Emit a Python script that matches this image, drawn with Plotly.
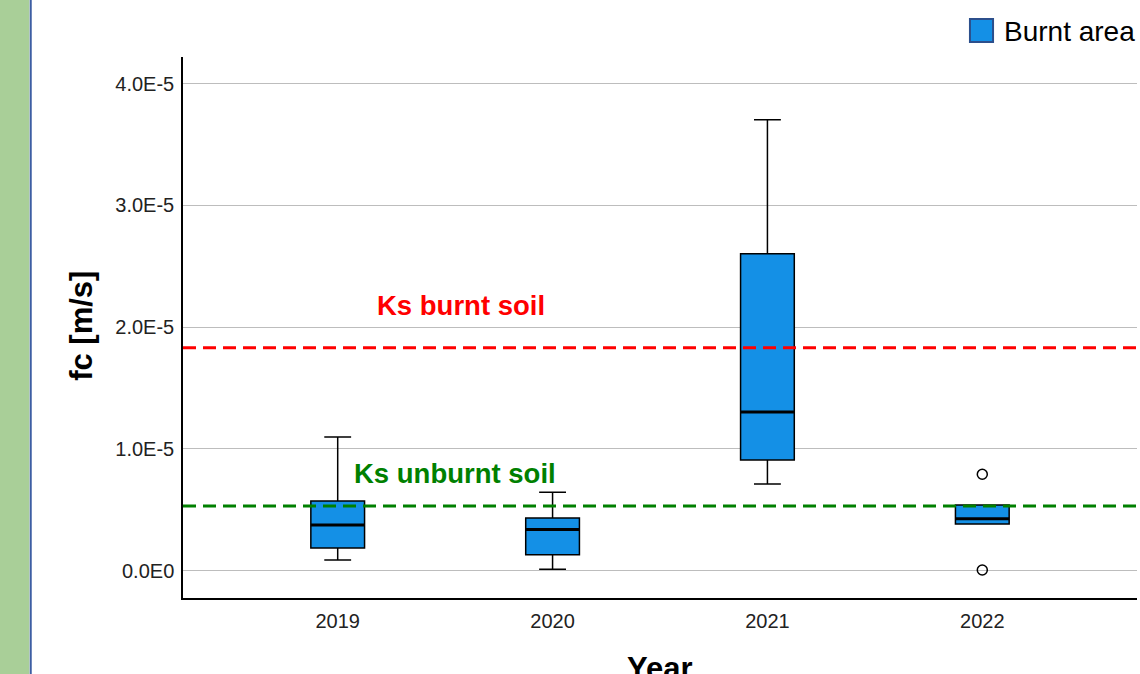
import plotly.graph_objects as go

# Infiltration capacity (fc) per year in the burnt area, summarised as box statistics
years = ["2019", "2020", "2021", "2022"]
q1 = [0.185e-5, 0.130e-5, 0.909e-5, 0.382e-5]
median = [0.374e-5, 0.336e-5, 1.303e-5, 0.426e-5]
q3 = [0.572e-5, 0.432e-5, 2.603e-5, 0.539e-5]
lower_fence = [0.086e-5, 0.010e-5, 0.711e-5, 0.382e-5]
upper_fence = [1.098e-5, 0.643e-5, 3.705e-5, 0.539e-5]

# Outliers
outlier_years = ["2022", "2022"]
outlier_values = [0.791e-5, 0.004e-5]

# Saturated hydraulic conductivity reference levels
ks_burnt = 1.83e-5
ks_unburnt = 0.53e-5

# Axis ticks
y_tickvals = [0.0, 1.0e-5, 2.0e-5, 3.0e-5, 4.0e-5]
y_ticktext = ["0.0E0", "1.0E-5", "2.0E-5", "3.0E-5", "4.0E-5"]

series_name = "Burnt area"

BOX_FILL = "#1490e6"
FONT = "Liberation Sans, Arial, sans-serif"
TICK_SIZE = 20

fig = go.Figure()

fig.add_trace(go.Box(
    x=years,
    q1=q1,
    median=median,
    q3=q3,
    lowerfence=lower_fence,
    upperfence=upper_fence,
    name=series_name,
    width=0.25,
    whiskerwidth=0.5,
    fillcolor=BOX_FILL,
    line=dict(color="black", width=1.5),
    boxpoints=False,
    showlegend=False,
    hoverinfo="skip",
))

# Heavier median bars over the boxes
fig.add_trace(go.Scatter(
    x=years,
    y=median,
    mode="markers",
    marker=dict(symbol="line-ew", size=38.5, color="black", line=dict(color="black", width=3)),
    showlegend=False,
    hoverinfo="skip",
))

fig.add_trace(go.Scatter(
    x=outlier_years,
    y=outlier_values,
    mode="markers",
    marker=dict(symbol="circle-open", size=10, color="black", line=dict(width=1.5)),
    showlegend=False,
    hoverinfo="skip",
))

# Dashed reference lines across the plot
for val, col in [(ks_burnt, "#ff0000"), (ks_unburnt, "#008000")]:
    fig.add_shape(
        type="line", xref="paper", x0=0, x1=1, yref="y", y0=val, y1=val,
        line=dict(color=col, width=3, dash="13px,7px"),
        layer="above",
    )

fig.add_annotation(
    x=0.573, y=2.18e-5, xref="x", yref="y", text="<b>Ks burnt soil</b>",
    showarrow=False, font=dict(family=FONT, size=27.5, color="#ff0000"),
)
fig.add_annotation(
    x=0.545, y=0.80e-5, xref="x", yref="y", text="<b>Ks unburnt soil</b>",
    showarrow=False, font=dict(family=FONT, size=27.5, color="#008000"),
)

# Legend key: swatch plus label in the top-right corner
fig.add_shape(type="rect", xref="paper", yref="paper", x0=0.8249, x1=0.8491, y0=1.0277, y1=1.0702,
              fillcolor=BOX_FILL, line=dict(color="#2c4f8c", width=2))
fig.add_annotation(
    x=0.8585, y=1.048, xref="paper", yref="paper", text=series_name,
    xanchor="left", yanchor="middle", showarrow=False,
    font=dict(family=FONT, size=28, color="black"),
)

# Axis titles
fig.add_annotation(
    x=-0.1059, y=0.503, xref="paper", yref="paper", text="<b>fc [m/s]</b>",
    xanchor="center", yanchor="middle",
    textangle=-90, showarrow=False, font=dict(family=FONT, size=31, color="black"),
)
fig.add_annotation(
    x=0.5, y=-0.131, xref="paper", yref="paper", text="<b>Year</b>",
    xanchor="center", yanchor="middle",
    showarrow=False, font=dict(family=FONT, size=31, color="black"),
)

# Green side strip with a blue edge at the left of the page
fig.add_shape(type="rect", xref="paper", yref="paper", x0=-0.192, x1=-0.161, y0=-0.2, y1=1.2,
              fillcolor="#a9cf98", line=dict(width=0), layer="below")
fig.add_shape(type="line", xref="paper", yref="paper", x0=-0.1596, x1=-0.1596, y0=-0.2, y1=1.2,
              line=dict(color="#3d5ea3", width=2))

fig.update_layout(
    width=1140,
    height=674,
    margin=dict(l=183, r=3, t=57, b=76, autoexpand=False),
    paper_bgcolor="white",
    plot_bgcolor="white",
    font=dict(family=FONT, size=TICK_SIZE, color="#222222"),
    showlegend=False,
    xaxis=dict(
        type="category",
        categoryorder="array",
        categoryarray=years,
        range=[-0.72, 3.72],
        showgrid=False,
        showline=True,
        linecolor="black",
        linewidth=1.5,
        ticks="",
        ticklabelstandoff=4,
        tickfont=dict(family=FONT, size=TICK_SIZE, color="#222222"),
        zeroline=False,
    ),
    yaxis=dict(
        range=[-0.226e-5, 4.22e-5],
        tickvals=y_tickvals,
        ticktext=y_ticktext,
        showgrid=True,
        gridcolor="#bdbdbd",
        gridwidth=1,
        showline=True,
        linecolor="black",
        linewidth=1.5,
        ticks="",
        ticklabelstandoff=3,
        tickfont=dict(family=FONT, size=TICK_SIZE, color="#222222"),
        zeroline=False,
    ),
)

fig.write_html("out.html")
